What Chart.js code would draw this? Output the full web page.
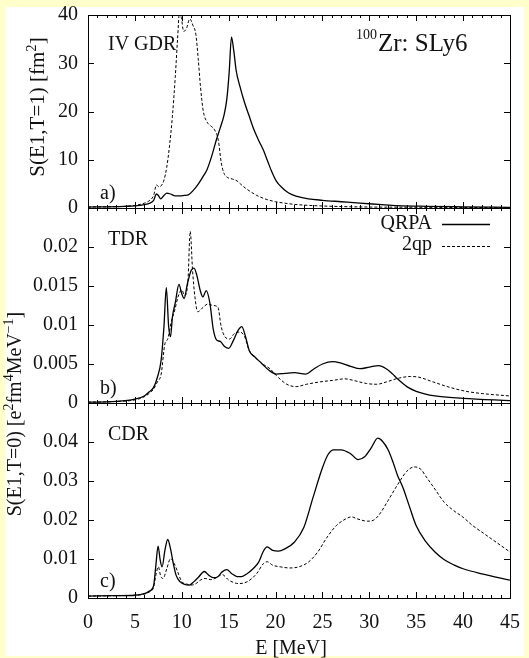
<!DOCTYPE html>
<html lang="en">
<head>
<meta charset="UTF-8">
<title>100Zr SLy6 E1 strength</title>
<script src="https://cdn.jsdelivr.net/npm/chart.js"></script>
<style>
  html, body { margin: 0; padding: 0; background: #ffffcc; }
  #wrap { position: relative; width: 529px; height: 658px; }
</style>
</head>
<body>
<div id="wrap"><canvas id="strength" width="529" height="658"></canvas></div>
<script>
// a) isovector GDR, S(E1,T=1) in fm^2
var gdrE_qrpa = [0, 2, 4, 5, 6, 6.6, 7.0, 7.3, 7.5, 7.75, 8.1, 8.4, 8.8, 9.3, 9.8, 10.3, 10.7, 11.2, 11.7, 12.2, 12.7, 13.2, 13.7, 14.1, 14.5, 14.8, 15.05, 15.3, 15.55, 15.8, 16.2, 16.7, 17.2, 17.7, 18.2, 18.7, 19.1, 19.6, 20.1, 20.7, 21.4, 22.3, 23.5, 25, 27, 29, 31, 33, 36, 40, 45];
var gdrS_qrpa = [0.2, 0.25, 0.35, 0.45, 0.7, 1.0, 1.6, 2.9, 2.6, 1.9, 2.6, 3.1, 2.9, 2.5, 2.5, 2.6, 2.7, 3.6, 4.8, 6.3, 8.0, 10.8, 14.2, 16.6, 19.2, 22.5, 28, 35.4, 32.5, 28.5, 25.2, 21.8, 19.0, 16.2, 14.0, 12.0, 10.0, 7.5, 5.5, 4.2, 3.1, 2.4, 1.9, 1.6, 1.3, 1.0, 0.75, 0.5, 0.35, 0.25, 0.15];
var gdrE_2qp = [0, 2, 4, 5, 6, 6.6, 7.0, 7.3, 7.55, 7.8, 8.1, 8.4, 8.7, 9.0, 9.3, 9.55, 9.75, 9.95, 10.2, 10.5, 10.85, 11.2, 11.5, 11.75, 12.0, 12.3, 12.7, 13.1, 13.5, 13.9, 14.2, 14.5, 14.9, 15.4, 15.9, 16.3, 16.8, 17.4, 18, 19, 20, 21, 22, 24, 27, 30, 35, 40, 45];
var gdrS_2qp = [0.2, 0.25, 0.35, 0.55, 1.0, 1.6, 2.6, 4.8, 4.4, 4.6, 5.8, 8.5, 13, 19, 27, 35, 40.5, 39.5, 36.6, 37.2, 39.2, 37.8, 36, 31, 25, 20, 17.8, 17, 16.2, 14.0, 9.5, 7.2, 6.3, 6.0, 5.6, 4.9, 4.1, 3.3, 2.6, 1.8, 1.3, 1.0, 0.75, 0.5, 0.3, 0.2, 0.15, 0.1, 0.07];

// b) toroidal dipole, S(E1,T=0)
var tdrE_qrpa = [0, 3, 5, 6, 6.5, 7.0, 7.4, 7.8, 8.1, 8.35, 8.6, 8.8, 9.0, 9.3, 9.7, 10.0, 10.25, 10.6, 11.0, 11.3, 11.6, 11.95, 12.25, 12.6, 13.0, 13.35, 13.7, 14.1, 14.6, 15.0, 15.5, 16.0, 16.4, 16.8, 17.2, 17.8, 18.5, 19.3, 20.1, 21, 22, 23.2, 24, 25, 26.1, 27, 28, 29, 30, 31, 31.8, 32.5, 33, 34, 35, 37, 40, 45];
var tdrS_qrpa = [0.0001, 0.0002, 0.0005, 0.0009, 0.0014, 0.002, 0.0033, 0.0055, 0.0098, 0.0148, 0.0098, 0.0085, 0.011, 0.0128, 0.0152, 0.014, 0.0134, 0.0153, 0.017, 0.0173, 0.0164, 0.0145, 0.0136, 0.0144, 0.0128, 0.0095, 0.0081, 0.0079, 0.0072, 0.007, 0.008, 0.0093, 0.0098, 0.0085, 0.0067, 0.0059, 0.0051, 0.0042, 0.0037, 0.0038, 0.0039, 0.0037, 0.0043, 0.005, 0.0053, 0.0051, 0.0047, 0.0044, 0.0046, 0.0048, 0.0044, 0.0037, 0.0031, 0.0021, 0.0015, 0.0009, 0.0006, 0.0003];
var tdrE_2qp = [0, 3, 5, 6, 6.5, 7.0, 7.4, 7.8, 8.2, 8.5, 8.9, 9.25, 9.6, 10.0, 10.3, 10.65, 10.9, 11.15, 11.4, 11.7, 12.3, 12.8, 13.3, 13.85, 14.2, 14.6, 15.1, 15.6, 16.2, 16.7, 17.2, 17.8, 18.5, 19.4, 20.1, 21.2, 22.2, 23.3, 24.7, 26.1, 27.4, 28.3, 29.7, 30.8, 31.8, 33.2, 34.4, 35.3, 36.8, 38.6, 40.3, 42.1, 45];
var tdrS_2qp = [0.0001, 0.0002, 0.0004, 0.0008, 0.0012, 0.0018, 0.0027, 0.0037, 0.0076, 0.0082, 0.0105, 0.0119, 0.0136, 0.0145, 0.0138, 0.0155, 0.022, 0.017, 0.0136, 0.0117, 0.0123, 0.0127, 0.0125, 0.0123, 0.0098, 0.0085, 0.0082, 0.0089, 0.0091, 0.0085, 0.0067, 0.0059, 0.0051, 0.0044, 0.0035, 0.0024, 0.0021, 0.0024, 0.0027, 0.0029, 0.0031, 0.0029, 0.0025, 0.0024, 0.0027, 0.0032, 0.0034, 0.0033, 0.0027, 0.002, 0.0015, 0.0012, 0.0009];

// c) compressional dipole, S(E1,T=0)
var cdrE_qrpa = [0, 3, 5, 6, 6.5, 7.0, 7.25, 7.47, 7.7, 7.9, 8.2, 8.5, 8.8, 9.1, 9.4, 9.8, 10.3, 10.8, 11.3, 11.8, 12.4, 12.9, 13.4, 13.8, 14.3, 14.8, 15.3, 15.9, 16.4, 17.0, 17.6, 18.2, 18.7, 19.1, 19.7, 20.3, 21, 22, 23, 24, 25, 25.6, 26.2, 27, 28, 28.8, 29.5, 30.2, 30.9, 31.4, 32, 32.5, 33, 33.6, 34.2, 35, 36, 37, 38, 39, 40, 42, 45];
var cdrS_qrpa = [0.0005, 0.0006, 0.0007, 0.0011, 0.0017, 0.0032, 0.0087, 0.0133, 0.0097, 0.008, 0.0122, 0.015, 0.0126, 0.0088, 0.0058, 0.0042, 0.0035, 0.0033, 0.0042, 0.0054, 0.0068, 0.0058, 0.0052, 0.0054, 0.0067, 0.0073, 0.0063, 0.0055, 0.0055, 0.0063, 0.0075, 0.0092, 0.012, 0.0131, 0.0122, 0.012, 0.0126, 0.0143, 0.018, 0.0258, 0.0334, 0.0368, 0.038, 0.038, 0.037, 0.0355, 0.0362, 0.0385, 0.041, 0.0402, 0.038, 0.035, 0.0315, 0.0282, 0.024, 0.0185, 0.0145, 0.0118, 0.0098, 0.0085, 0.0075, 0.0062, 0.0046];
var cdrE_2qp = [0, 3, 5, 6, 6.5, 7.0, 7.25, 7.5, 7.75, 8.0, 8.4, 8.8, 9.2, 9.5, 10.0, 10.5, 11, 11.5, 12, 12.5, 13.1, 13.7, 14.3, 15, 15.5, 16, 17, 18, 18.7, 19.1, 19.7, 20.5, 21.5, 22.5, 23.5, 24.5, 25.5, 26.5, 27.5, 28.1, 28.7, 29.8, 30.4, 31, 32, 33, 34, 34.8, 35.5, 36, 37, 38, 39, 40, 41, 42, 43, 44, 45];
var cdrS_2qp = [0.0005, 0.0006, 0.0007, 0.001, 0.0015, 0.0028, 0.006, 0.008, 0.0056, 0.005, 0.0075, 0.0101, 0.0088, 0.0071, 0.0042, 0.0036, 0.0033, 0.0037, 0.0046, 0.005, 0.0047, 0.0052, 0.006, 0.0046, 0.004, 0.0037, 0.0042, 0.0063, 0.0088, 0.0093, 0.0084, 0.008, 0.0077, 0.008, 0.0092, 0.0118, 0.0156, 0.0186, 0.0203, 0.0208, 0.0203, 0.0197, 0.0199, 0.0212, 0.025, 0.029, 0.0325, 0.0336, 0.033, 0.0313, 0.0279, 0.0245, 0.0224, 0.0207, 0.0186, 0.0169, 0.0152, 0.0135, 0.0118];

var serif = '"Liberation Serif", "DejaVu Serif", serif';

function pts(e, s) {
  return e.map(function(x, i) { return {x: x, y: s[i]}; });
}

var solidLine = {borderColor: '#000', borderWidth: 1.3, pointRadius: 0, fill: false, cubicInterpolationMode: 'monotone'};
var dashLine = {borderColor: '#000', borderWidth: 1, borderDash: [3, 2], pointRadius: 0, fill: false, cubicInterpolationMode: 'monotone'};

function series(label, e, s, axis, style) {
  return Object.assign({label: label, data: pts(e, s), yAxisID: axis}, style);
}

// draws runs of normal / superscript text starting at x, returns width
function rich(ctx, parts, size, x, y, draw) {
  var w = 0;
  parts.forEach(function(p) {
    var s = p[1] ? size * 0.7 : size;
    ctx.font = s + 'px ' + serif;
    if (draw) ctx.fillText(p[0], x + w, p[1] ? y - size * 0.4 : y);
    w += ctx.measureText(p[0]).width;
  });
  return w;
}

function yTitle(ctx, parts, size, x, y) {
  ctx.save();
  ctx.translate(x, y);
  ctx.rotate(-Math.PI / 2);
  var w = rich(ctx, parts, size, 0, 0, false);
  rich(ctx, parts, size, -w / 2, 0, true);
  ctx.restore();
}

function label(ctx, text, size, x, y, align) {
  ctx.font = size + 'px ' + serif;
  ctx.textAlign = align || 'left';
  ctx.fillText(text, x, y);
  ctx.textAlign = 'left';
}

// no extra room for half tick labels: the frame sits at fixed padding
function noOverhang(s) {
  s.paddingTop = 0; s.paddingBottom = 0; s.paddingLeft = 0; s.paddingRight = 0;
}

var panelFrame = {
  id: 'panelFrame',
  beforeDraw: function(chart) {
    var c = chart.ctx;
    c.save();
    c.fillStyle = '#ffffff';
    c.fillRect(5, 7, 519, 649);
    c.restore();
  },
  afterDraw: function(chart) {
    var c = chart.ctx;
    var xs = chart.scales.x;
    var left = chart.chartArea.left, right = chart.chartArea.right;
    c.save();
    c.strokeStyle = '#000';
    c.lineWidth = 1;
    ['ya', 'yb', 'yc'].forEach(function(id) {
      var ys = chart.scales[id];
      var top = Math.round(ys.top), bot = Math.round(ys.bottom);
      c.strokeRect(left + 0.5, top + 0.5, right - left, bot - top);
      c.beginPath();
      for (var e = 0; e <= 45; e++) {
        var px = Math.round(xs.getPixelForValue(e)) + 0.5;
        var len = e % 5 === 0 ? 6 : 3;
        c.moveTo(px, bot); c.lineTo(px, bot - len);
        c.moveTo(px, top); c.lineTo(px, top + len);
      }
      ys.ticks.forEach(function(t) {
        var py = Math.round(ys.getPixelForValue(t.value)) + 0.5;
        c.moveTo(left, py); c.lineTo(left + 6, py);
        c.moveTo(right, py); c.lineTo(right - 6, py);
      });
      c.stroke();
    });

    c.fillStyle = '#111';
    c.textBaseline = 'alphabetic';
    // axis titles
    yTitle(c, [['S(E1,T=1) [fm', 0], ['2', 1], [']', 0]], 21, 44, 107);
    yTitle(c, [['S(E1,T=0) [e', 0], ['2', 1], ['fm', 0], ['4', 1], ['MeV', 0], ['\u22121', 1], [']', 0]], 20, 21, 414);
    label(c, 'E [MeV]', 20, 291, 654, 'center');

    // panel labels
    label(c, 'IV GDR', 20, 108, 50);
    label(c, 'a)', 20, 100, 199);
    label(c, 'TDR', 20, 108, 245);
    label(c, 'b)', 20, 100, 394);
    label(c, 'CDR', 20, 108, 440);
    label(c, 'c)', 20, 100, 587);
    label(c, '100', 14, 377, 39, 'right');
    label(c, 'Zr: SLy6', 25, 378, 51);

    // legend
    label(c, 'QRPA', 20, 432, 229, 'right');
    label(c, '2qp', 20, 432, 250, 'right');
    c.beginPath();
    c.lineWidth = 1.3;
    c.moveTo(442, 224.5); c.lineTo(490, 224.5);
    c.stroke();
    c.beginPath();
    c.lineWidth = 1;
    c.setLineDash([3, 2]);
    c.moveTo(442, 246.5); c.lineTo(490, 246.5);
    c.stroke();
    c.restore();
  }
};

function yAxis(max, step, weight) {
  return {
    type: 'linear',
    position: 'left',
    stack: 'panels',
    stackWeight: weight,
    min: 0,
    max: max,
    grid: {display: false, drawTicks: false},
    border: {display: false},
    ticks: {
      stepSize: step,
      autoSkip: false,
      padding: 10,
      color: '#111',
      font: {family: serif, size: 20},
      callback: function(v) {
        if (max < 1 && Math.abs(v - max) < step * 0.01) return '';
        return String(parseFloat(v.toPrecision(6)));
      }
    },
    afterFit: function(s) { s.width = 88; noOverhang(s); }
  };
}

new Chart(document.getElementById('strength').getContext('2d'), {
  type: 'line',
  data: {
    datasets: [
      series('QRPA', gdrE_qrpa, gdrS_qrpa, 'ya', solidLine),
      series('2qp', gdrE_2qp, gdrS_2qp, 'ya', dashLine),
      series('QRPA', tdrE_qrpa, tdrS_qrpa, 'yb', solidLine),
      series('2qp', tdrE_2qp, tdrS_2qp, 'yb', dashLine),
      series('QRPA', cdrE_qrpa, cdrS_qrpa, 'yc', solidLine),
      series('2qp', cdrE_2qp, cdrS_2qp, 'yc', dashLine)
    ]
  },
  options: {
    responsive: false,
    animation: false,
    layout: {padding: {left: 0, right: 19, top: 15, bottom: 0}},
    plugins: {legend: {display: false}, tooltip: {enabled: false}},
    scales: {
      x: {
        type: 'linear',
        position: 'bottom',
        min: 0,
        max: 45,
        grid: {display: false, drawTicks: false},
        border: {display: false},
        ticks: {stepSize: 5, autoSkip: false, padding: 13, maxRotation: 0, color: '#111', font: {family: serif, size: 20}},
        afterFit: function(s) { s.height = 60; noOverhang(s); }
      },
      // stacked bottom to top: c, b, a
      yc: yAxis(0.05, 0.01, 195),
      yb: yAxis(0.025, 0.005, 195),
      ya: yAxis(40, 10, 193)
    }
  },
  plugins: [panelFrame]
});
</script>
</body>
</html>
